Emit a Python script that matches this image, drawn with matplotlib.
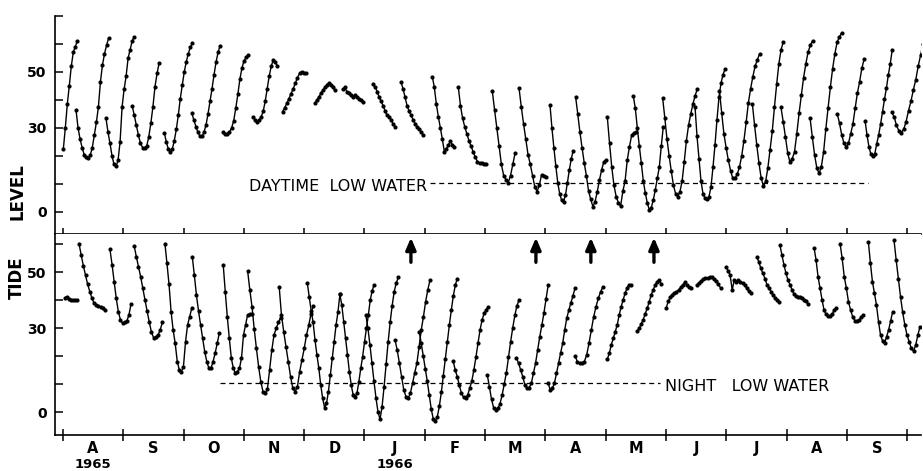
import numpy as np
import matplotlib
matplotlib.use("Agg")
import matplotlib.pyplot as plt

# ====================== DATA ======================
# x = days since 1 Aug 1965 (one month drawn as 30.4 days), y = low-water level
DAYS_PER_MONTH = 30.4
MONTHS = ["A", "S", "O", "N", "D", "J", "F", "M", "A", "M", "J", "J", "A", "S"]
YEAR_LABELS = ["1965", "1966"]
YEAR_MONTH = [0, 5]

# daytime low water (top panel): first day, last day, daily levels
TOP_START = [0.2, 6.6, 21.7, 34.9, 51.1, 65.0, 80.8, 95.9, 110.7, 127.0,
             141.0, 156.4, 170.4, 186.2, 199.3, 216.4, 229.9, 245.5, 258.4, 274.4,
             287.5, 302.3, 318.6, 330.9, 347.5, 361.9, 376.6, 390.3, 404.3, 417.7]
TOP_END = [7.2, 23.0, 35.9, 48.5, 65.2, 79.2, 93.4, 108.0, 122.5, 137.1,
           151.4, 167.4, 181.6, 197.3, 213.2, 227.9, 243.5, 257.2, 273.7, 288.9,
           302.6, 319.7, 333.7, 351.1, 363.1, 377.9, 392.5, 403.8, 418.0, 433.5]
TOP_LEVELS = [
    [22.5, 30, 38.5, 45, 52, 57, 59, 61],
    [36.4, 30, 26, 23, 20.5, 19.5, 19.3, 20.3, 23, 27.5, 32, 37.5, 46.5, 52.5, 56.5, 59.5, 62],
    [33.5, 28.5, 24.5, 20, 17, 16.3, 18.5, 25, 37.5, 43.8, 48.5, 55, 58, 61, 62.6],
    [37.9, 34.6, 31, 27.5, 24.5, 23, 23, 23.5, 26.9, 31.7, 37.6, 44.8, 49.5, 53.3],
    [28.3, 25, 22.5, 21.5, 22.5, 25.5, 29.5, 34.6, 40.5, 45.4, 50.1, 53.7, 56.5, 58.8, 60.2],
    [35.2, 32.8, 30.5, 28.5, 27, 27, 28.5, 31, 35, 39.5, 44, 49, 53.5, 57, 59.4],
    [28.5, 28, 28, 28.5, 30, 32.5, 37, 42, 47.5, 51.5, 54, 55.2, 56],
    [33.8, 33, 32.3, 32.7, 34, 36, 39.5, 44, 48.5, 52, 54.3, 53.5, 52.3],
    [35.8, 37.3, 38.8, 40.5, 42.3, 44, 46, 48, 49.5, 50.1, 49.8, 49.5],
    [38.8, 40, 41, 42.5, 43.5, 44.5, 45.5, 46, 45.5, 44.5, 43.6],
    [43.8, 44.5, 43, 42.4, 41.8, 41.2, 41.8, 41, 40.5, 40, 39.4],
    [45.7, 44.5, 43, 41, 39.5, 38, 36, 34.5, 34, 33, 31.5, 30.5],
    [46.5, 44, 41, 38, 36, 34.5, 33, 31.5, 30.5, 29.5, 28.5, 27.5],
    [48.3, 44.5, 38.5, 34, 30, 26, 21.5, 22.5, 24, 25.2, 24, 23.3],
    [44.5, 38, 33.5, 30.5, 28, 25.5, 23.5, 21.5, 19.5, 18, 17.5, 17.4, 17.3, 17.3],
    [43.3, 36.5, 30, 23.5, 17, 13, 11.5, 10.5, 13, 17, 21],
    [44.2, 37.5, 31.5, 26, 20.5, 17, 13, 9, 7.3, 9.5, 13.2, 12.8, 12.6],
    [38.2, 30, 23, 16.5, 10.5, 6.5, 4.2, 3.7, 6, 10.5, 15, 19, 21.9],
    [41.2, 35, 28.5, 22.9, 17.5, 12.8, 7.4, 4.5, 1.9, 3.7, 7.3, 11.4, 15, 17.9, 18.6],
    [33.8, 24.5, 16, 9.5, 5.5, 3.3, 2.1, 7.4, 10.9, 18.5, 23.3, 27.5, 28.3, 28.6],
    [41.4, 37, 30, 23.5, 17.5, 11, 6.8, 3.2, 0.8, 1.6, 4.3, 7.9, 12, 16, 23.5, 30.5],
    [40.6, 33.5, 26, 20, 14.5, 9.5, 6.5, 5.5, 7.3, 11, 18, 25.5, 31, 35, 38.5, 41.5, 43.8],
    [37.6, 27, 19, 11, 6.5, 4.9, 4.5, 5.5, 9, 16, 24, 33, 41, 46, 49, 51],
    [43.3, 35.5, 28, 23, 18.5, 14.8, 12, 12, 13.5, 16, 20, 25.5, 32, 39, 44, 48.3, 52, 54.3, 56.4],
    [38.6, 31, 23.9, 17.4, 12, 9.3, 10.9, 15.7, 22.2, 28.8, 37.6, 45.7, 53, 58, 60.8],
    [37.4, 32.3, 26.7, 21, 17.7, 19.1, 21.5, 28, 35.2, 41.7, 48, 53, 57.2, 59.6, 61.2],
    [33.5, 26.7, 20.4, 15.6, 13.8, 16.2, 21.5, 29.8, 37.3, 44.6, 51.2, 56.5, 60.7, 62.5, 64],
    [35, 31.7, 27.5, 24.5, 23.3, 24.5, 27.9, 31.4, 37, 42.4, 46.5, 51.3, 54.5],
    [32.6, 27.5, 23.3, 20.7, 20, 20.7, 24.3, 27.5, 31.4, 35.8, 40.2, 44.2, 49, 53, 58],
    [35.8, 34, 31, 29, 28.3, 29.5, 32.3, 36.2, 39.5, 43.6, 47.2, 52, 56, 60],
]

# night low water (bottom panel)
BOT_START = [1.0, 8.1, 23.7, 35.9, 51.4, 65.2, 80.8, 93.1, 109.0, 123.2,
             139.6, 152.7, 167.4, 179.6, 196.7, 213.9, 228.6, 244.6, 258.1, 274.4,
             289.5, 304.0, 319.4, 334.2, 349.7, 361.4, 378.6, 391.7, 406.0, 418.9]
BOT_END = [7.1, 21.2, 34.3, 50.1, 64.9, 78.8, 95.1, 109.7, 126.2, 139.6,
           156.8, 169.0, 185.0, 198.8, 214.4, 229.9, 244.6, 258.1, 272.2, 286.3,
           301.5, 316.6, 331.5, 346.7, 361.1, 375.7, 389.7, 403.4, 418.2, 432.0]
BOT_LEVELS = [
    [40.8, 41.2, 40.5, 40.2, 40, 40, 40],
    [60.2, 56.1, 52.3, 48.9, 45.6, 43, 40.6, 38.8, 38.3, 37.9, 37.4, 37, 36.4],
    [58.1, 52.7, 46.5, 40.6, 35.8, 32.9, 31.7, 32, 32.5, 34.6, 38.5],
    [59.4, 55.5, 51.9, 48.3, 44.2, 40, 36, 32, 28.5, 26.5, 26.8, 27.5, 29.3, 32],
    [60.2, 53.1, 45.6, 35.8, 29.3, 24.5, 18, 15, 14.4, 16.2, 25.1, 31.1, 34, 37],
    [55.5, 48.8, 41.8, 36.1, 31.1, 26.3, 21.5, 18, 15.6, 15.6, 18, 21, 24.5, 28.1],
    [52.5, 43, 34, 26.3, 19.2, 15.6, 13.8, 14.4, 15.6, 19.2, 27.5, 31.1, 34.6, 35, 35],
    [50.4, 43.6, 37.6, 29.6, 22.7, 16.2, 10.8, 7.3, 6.7, 8.2, 15, 22.1, 27.5, 29.9, 32, 33.7],
    [44.8, 34.6, 28.7, 23.3, 18, 12.6, 8.5, 7.3, 9, 14.4, 18.6, 22.7, 27.5, 31, 35.2, 38],
    [46, 41, 36.2, 32.1, 25.7, 20.4, 15.6, 9.6, 4.9, 1.5, 3.1, 7.3, 13.2, 19.2, 25.1, 31.1, 35.8, 42],
    [42, 38.2, 32.3, 26.3, 20.4, 14.4, 9.6, 6.1, 5.5, 6.7, 10.8, 15.6, 19.8, 25.1, 29.9, 34.6, 40, 43.2, 45.4],
    [34.6, 30, 24, 17.5, 11, 5, 0, -2.6, 1.9, 9, 17, 25, 32, 38, 43, 46, 48.1],
    [25.7, 22.1, 17.4, 12.6, 7.9, 5.5, 4.9, 6.7, 10.2, 14, 17.4, 23.3, 29.3, 34, 39.4, 43.6, 47.1],
    [28.7, 24.5, 20, 15.5, 11, 6, 1, -2.5, -3.1, -1.7, 2, 7, 13, 19, 25, 31, 36.5, 41.5, 45.4, 47.7],
    [18.2, 15, 12.6, 9.5, 6.7, 5.3, 4.9, 6, 8.5, 11, 15, 19.5, 24.5, 29.3, 32.9, 35.3, 36.6, 37.6],
    [13.2, 9, 4.5, 1.5, 0.7, 1.3, 3, 6, 10, 14, 19.5, 25, 30, 34.5, 38, 40],
    [19.3, 17.4, 15, 12.6, 9.6, 8.5, 8.7, 10.2, 13.8, 17.4, 22.1, 26.9, 31, 35.5, 40.5, 45.4],
    [10.2, 7.9, 8.5, 10.2, 13.8, 17.4, 21, 24.5, 29.3, 33.5, 36.4, 39, 41.5, 44.2],
    [20.1, 18, 17.4, 17.6, 18, 20.4, 24.5, 29.3, 34, 37.6, 40.6, 43, 44.8],
    [18.9, 21, 24, 26.3, 28.7, 31, 34.6, 37.6, 40, 42.4, 44.2, 45.4, 45.4],
    [29, 30, 31.5, 33, 35.2, 37, 39.4, 41.8, 43.6, 45.4, 46.6, 47.2, 45.8],
    [37, 39.5, 41, 41.8, 42.4, 43, 43.6, 44.5, 45.4, 46.3, 45.4, 44.8, 44.2],
    [45.4, 46, 46.8, 47.5, 47.9, 47.9, 48.1, 48.1, 47.5, 46.9, 45.8, 44.2],
    [51.9, 50.5, 49, 43.6, 47.1, 46.5, 47, 46.4, 46, 45.4, 44.3, 43.2, 42.4],
    [55.5, 53.7, 51.3, 49.5, 47.7, 45.4, 44.2, 43, 41.8, 40.8, 40, 39.4],
    [59.6, 56, 52.5, 49.5, 47.1, 45.4, 43.6, 42, 41.5, 41.2, 41, 40.6, 40.2, 39.5, 38.5],
    [58.7, 54.3, 48.3, 44.2, 40, 36.4, 34.9, 34.4, 34.4, 34.9, 36.4, 37.3],
    [60.2, 54.9, 48.3, 44.2, 39.4, 36.4, 34, 32.7, 32.5, 32.9, 34, 34.6],
    [60.6, 53.1, 46.5, 42.4, 38.2, 32.3, 27.5, 25.4, 24.5, 26.9, 29.3, 32.5, 35.8],
    [61.4, 54.3, 47.7, 41.2, 35.6, 31.1, 27.5, 25.1, 22.7, 21.8, 23.9, 27.5, 30.5],
]

# reference low-water lines and arrows
DAY_LOW_LEVEL = 10.5
DAY_LOW_SPAN = [185.0, 405.7]
NIGHT_LOW_LEVEL = 10.3
NIGHT_LOW_SPAN = [79.1, 300.9]
ARROW_DAYS = [175.4, 238.4, 266.1, 297.9]


# ====================== PLOT ======================
def draw_segments(ax, starts, ends, levels):
    for s, e, lv in zip(starts, ends, levels):
        x = np.linspace(s, e, len(lv))
        ax.plot(x, lv, color="black", lw=1.0, marker="o", ms=2.0,
                mfc="black", mec="black", solid_joinstyle="round")


def style_axis(ax, ylim, yticks, labeled):
    ax.set_xlim(-4.0, 432.5)
    ax.set_ylim(*ylim)
    for side in ["top", "right"]:
        ax.spines[side].set_visible(False)
    for side in ["left", "bottom"]:
        ax.spines[side].set_linewidth(1.2)
    ax.set_yticks(yticks)
    ax.set_yticklabels([str(t) if t in labeled else "" for t in yticks],
                       fontsize=10, fontweight="bold")
    ax.tick_params(axis="y", direction="in", length=6, width=1.1, pad=6)
    month_edges = [i * DAYS_PER_MONTH for i in range(len(MONTHS) + 1)]
    ax.set_xticks(month_edges)
    ax.tick_params(axis="x", which="major", direction="inout", length=9, width=1.1)


fig = plt.figure(figsize=(9.23, 4.71), dpi=100)
ax_top = fig.add_axes([55 / 923, 1 - 234 / 471, 866 / 923, 218 / 471])
ax_bot = fig.add_axes([55 / 923, 1 - 435 / 471, 866 / 923, 201 / 471])

draw_segments(ax_top, TOP_START, TOP_END, TOP_LEVELS)
draw_segments(ax_bot, BOT_START, BOT_END, BOT_LEVELS)

style_axis(ax_top, (-7.86, 70), list(range(0, 71, 10)), [0, 30, 50])
style_axis(ax_bot, (-8.2, 63.6), list(range(0, 61, 10)), [0, 30, 50])
ax_top.set_xticklabels([])

# month labels in the middle of each month
ax_bot.set_xticklabels([])
mids = [(i + 0.5) * DAYS_PER_MONTH for i in range(len(MONTHS))]
ax_bot.set_xticks(mids, minor=True)
ax_bot.set_xticklabels(MONTHS, minor=True, fontsize=10.5, fontweight="bold")
ax_bot.tick_params(axis="x", which="minor", length=0, pad=4)
for lab, m in zip(YEAR_LABELS, YEAR_MONTH):
    ax_bot.text((m + 0.5) * DAYS_PER_MONTH, -0.115, lab, transform=ax_bot.get_xaxis_transform(),
                ha="center", va="top", fontsize=9.5, fontweight="bold")

# low-water reference lines
ax_top.plot(DAY_LOW_SPAN, [DAY_LOW_LEVEL] * 2, color="black", lw=0.9, ls=(0, (4, 3)))
ax_top.text(DAY_LOW_SPAN[0] - 1.5, DAY_LOW_LEVEL - 1.3, "DAYTIME  LOW WATER",
            ha="right", va="center", fontsize=11.5)
ax_bot.plot(NIGHT_LOW_SPAN, [NIGHT_LOW_LEVEL] * 2, color="black", lw=0.9, ls=(0, (4, 3)))
ax_bot.text(NIGHT_LOW_SPAN[1] + 2.5, NIGHT_LOW_LEVEL - 1.0, "NIGHT   LOW WATER",
            ha="left", va="center", fontsize=11.5)

for d in ARROW_DAYS:
    ax_bot.annotate("", xy=(d, 62.3), xytext=(d, 53.5),
                    arrowprops=dict(arrowstyle="-|>,head_width=0.3,head_length=0.7",
                                    lw=2.4, color="black", shrinkA=0, shrinkB=0))

fig.text(17 / 923, 1 - 192 / 471, "LEVEL", rotation=90, ha="center", va="center",
         fontsize=12, fontweight="bold")
fig.text(17 / 923, 1 - 278 / 471, "TIDE", rotation=90, ha="center", va="center",
         fontsize=12, fontweight="bold")

fig.savefig("out.png", dpi=100)
